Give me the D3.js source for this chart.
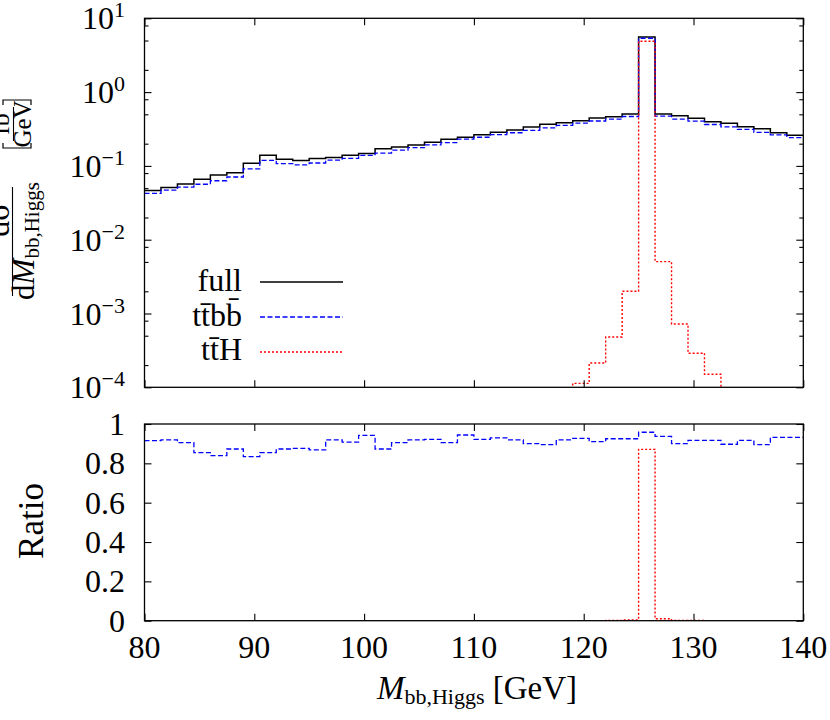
<!DOCTYPE html>
<html>
<head>
<meta charset="utf-8">
<script src="https://cdn.jsdelivr.net/npm/d3@7/dist/d3.min.js"></script>
<style>
  body { margin: 0; background: #ffffff; }
  text { font-family: 'Liberation Serif', 'Times New Roman', serif; fill: #000000; }
</style>
</head>
<body>
<svg id="canvas"></svg>
<script>

// Bin edges of the histogram (GeV).
var binEdges = [80, 81.5, 83, 84.5, 86, 87.5, 89, 90.5, 92, 93.5, 95, 96.5, 98, 99.5,
                101, 102.5, 104, 105.5, 107, 108.5, 110, 111.5, 113, 114.5, 116, 117.5,
                119, 120.5, 122, 123.5, 125, 126.5, 128, 129.5, 131, 132.5, 134, 135.5,
                137, 138.5, 140];

// dsigma/dM for the full calculation (fb/GeV).
var full = [0.0464, 0.051, 0.057, 0.066, 0.075, 0.081, 0.109, 0.139, 0.123, 0.118,
            0.126, 0.130, 0.139, 0.147, 0.171, 0.181, 0.192, 0.209, 0.229, 0.244,
            0.265, 0.285, 0.306, 0.336, 0.366, 0.385, 0.41, 0.446, 0.464, 0.505,
            5.6, 0.505, 0.479, 0.441, 0.397, 0.377, 0.34, 0.319, 0.282, 0.26];

// dsigma/dM for ttbb (fb/GeV).
var ttbb = [0.0425, 0.0469, 0.0516, 0.0564, 0.0629, 0.0707, 0.0909, 0.1187, 0.1074, 0.1034,
            0.1094, 0.1195, 0.1262, 0.1385, 0.1493, 0.1638, 0.1764, 0.1927, 0.2072, 0.2303,
            0.2443, 0.2648, 0.2812, 0.3024, 0.3276, 0.3538, 0.3801, 0.4059, 0.4292, 0.4671,
            5.365, 0.4732, 0.4311, 0.4044, 0.364, 0.3382, 0.3118, 0.2855, 0.2628, 0.2423];

// dsigma/dM for ttH (fb/GeV), null where below the plotted range.
var ttH = [null, null, null, null, null, null, null, null, null, null,
           null, null, null, null, null, null, null, null, null, null,
           null, null, null, null, null, null, 1.13e-4, 2.13e-4, 4.8e-4, 2.0e-3,
           4.88, 5.05e-3, 7.2e-4, 2.9e-4, 1.5e-4, null, null, null, null, null];

// Ratio ttbb / full.
var ratioTtbb = [0.915, 0.919, 0.905, 0.854, 0.839, 0.873, 0.834, 0.854, 0.873, 0.876,
                 0.868, 0.919, 0.908, 0.942, 0.873, 0.905, 0.919, 0.922, 0.905, 0.944,
                 0.922, 0.929, 0.919, 0.900, 0.895, 0.919, 0.927, 0.910, 0.925, 0.925,
                 0.958, 0.937, 0.900, 0.917, 0.917, 0.897, 0.917, 0.895, 0.932, 0.932];

// Ratio ttH / full.
var ratioTtH = [0, 0, 0, 0, 0, 0, 0, 0, 0, 0,
                0, 0, 0, 0, 0, 0, 0, 0, 0, 0,
                0, 0, 0, 0, 0, 0, 0.0003, 0.0005, 0.001, 0.004,
                0.871, 0.010, 0.0015, 0.0007, 0.0004, 0, 0, 0, 0, 0];

// Tick values.
var xTicks = [80, 90, 100, 110, 120, 130, 140];
var logTicks = [-4, -3, -2, -1, 0, 1];
var logMinorMantissa = [2, 5, 8];
var ratioTicks = [0, 0.2, 0.4, 0.6, 0.8, 1];
var ratioTickLabels = ['0', '0.2', '0.4', '0.6', '0.8', '1'];

// Legend entries.
var legendLabels = ['full', 't\u0074\u0304b\u0062\u0304', 't\u0074\u0304H'];

// Canvas and graph settings.
var canvas = {
  dim: { w: 830, h: 720 },
  plot: { left: 144.5, right: 803.3 },
  top: { y0: 18.3, y1: 387.3 },
  bottom: { y0: 424, y1: 620.7 },
  font: 32,
  colours: {
    full: '#000000',
    ttbb: '#0000ff',
    ttH: '#ff0000'
  }
};

var svg = d3.select('#canvas')
            .attr('width', canvas.dim.w)
            .attr('height', canvas.dim.h);

// Scales.
var x = d3.scaleLinear().domain([80, 140]).range([canvas.plot.left, canvas.plot.right]);
var yLog = d3.scaleLog().domain([1e-4, 10]).range([canvas.top.y1, canvas.top.y0]);
var yRatio = d3.scaleLinear().domain([0, 1]).range([canvas.bottom.y1, canvas.bottom.y0]);

// Clip paths for both panels.
var defs = svg.append('defs');
defs.append('clipPath').attr('id', 'clipTop')
    .append('rect')
    .attr('x', canvas.plot.left).attr('y', canvas.top.y0)
    .attr('width', canvas.plot.right - canvas.plot.left)
    .attr('height', canvas.top.y1 - canvas.top.y0);
defs.append('clipPath').attr('id', 'clipBottom')
    .append('rect')
    .attr('x', canvas.plot.left).attr('y', canvas.bottom.y0 - 2)
    .attr('width', canvas.plot.right - canvas.plot.left)
    .attr('height', canvas.bottom.y1 - canvas.bottom.y0 + 2);

// Step line generator over the bin edges.
var stepLine = function(values, yScale, below) {
  var pts = values.map(function(v, i) { return [binEdges[i], v]; });
  pts.push([binEdges[binEdges.length - 1], values[values.length - 1]]);
  return d3.line()
           .curve(d3.curveStepAfter)
           .x(function(d) { return x(d[0]); })
           .y(function(d) { return d[1] == null ? below : yScale(d[1]); })(pts);
};

// Draw one histogram.
var drawHist = function(g, values, yScale, below, colour, dash, width) {
  g.append('path')
   .attr('d', stepLine(values, yScale, below))
   .attr('fill', 'none')
   .attr('stroke', colour)
   .attr('stroke-width', width)
   .attr('stroke-dasharray', dash);
};

// Draw the ticks and the frame of a panel.
var drawTicks = function(y0, y1, yScale, yMajor, yMinor) {
  var g = svg.append('g').attr('class', 'ticks');
  var list = [
    { axis: d3.axisBottom(x).tickValues(xTicks).tickSize(7), t: [0, y0] },
    { axis: d3.axisTop(x).tickValues(xTicks).tickSize(7), t: [0, y1] },
    { axis: d3.axisRight(yScale).tickValues(yMajor).tickSize(7), t: [canvas.plot.left, 0] },
    { axis: d3.axisLeft(yScale).tickValues(yMajor).tickSize(7), t: [canvas.plot.right, 0] }
  ];
  if (yMinor) {
    list.push({ axis: d3.axisRight(yScale).tickValues(yMinor).tickSize(4), t: [canvas.plot.left, 0] });
    list.push({ axis: d3.axisLeft(yScale).tickValues(yMinor).tickSize(4), t: [canvas.plot.right, 0] });
  }
  list.forEach(function(item) {
    var a = g.append('g')
             .attr('transform', 'translate(' + item.t[0] + ',' + item.t[1] + ')')
             .call(item.axis.tickFormat(''));
    a.select('.domain').remove();
    a.selectAll('line').attr('stroke', '#000').attr('stroke-width', 1.1);
  });
  svg.append('rect')
     .attr('x', canvas.plot.left).attr('y', y0)
     .attr('width', canvas.plot.right - canvas.plot.left)
     .attr('height', y1 - y0)
     .attr('fill', 'none')
     .attr('stroke', '#000')
     .attr('stroke-width', 1.3);
};

////////////////////////////////////////////////////////////////////////////////
// Top panel
////////////////////////////////////////////////////////////////////////////////
var topG = svg.append('g').attr('clip-path', 'url(#clipTop)');
var below = canvas.top.y1 + 30;
drawHist(topG, full, yLog, below, canvas.colours.full, null, 1.5);
drawHist(topG, ttbb, yLog, below, canvas.colours.ttbb, '5,2.5', 1.3);
drawHist(topG, ttH, yLog, below, canvas.colours.ttH, '2,2', 1.4);

var minorValues = [];
logTicks.forEach(function(e) {
  logMinorMantissa.forEach(function(m) {
    var v = m * Math.pow(10, e);
    if (v < 10) { minorValues.push(v); }
  });
});
drawTicks(canvas.top.y0, canvas.top.y1, yLog,
          logTicks.map(function(e) { return Math.pow(10, e); }), minorValues);

// Log tick labels.
logTicks.forEach(function(e) {
  var t = svg.append('text')
             .attr('x', 125)
             .attr('y', yLog(Math.pow(10, e)) + 11)
             .attr('text-anchor', 'end')
             .attr('font-size', canvas.font);
  t.append('tspan').text('10');
  t.append('tspan')
   .attr('dy', -12)
   .attr('font-size', 22)
   .text(e < 0 ? '\u2212' + (-e) : String(e));
});

// Legend.
legendLabels.forEach(function(label, i) {
  var yBase = 291 + i * 34.5;
  svg.append('text')
     .attr('x', 242).attr('y', yBase)
     .attr('text-anchor', 'end')
     .attr('font-size', canvas.font)
     .text(label);
});
var legendStyles = [
  { colour: canvas.colours.full, dash: null, width: 1.5 },
  { colour: canvas.colours.ttbb, dash: '5,2.5', width: 1.3 },
  { colour: canvas.colours.ttH, dash: '2,2', width: 1.4 }
];
legendStyles.forEach(function(s, i) {
  var yLine = 282 + i * 35;
  svg.append('line')
     .attr('x1', 260).attr('x2', 343)
     .attr('y1', yLine).attr('y2', yLine)
     .attr('stroke', s.colour)
     .attr('stroke-width', s.width)
     .attr('stroke-dasharray', s.dash);
});

// Y axis label of the top panel (rotated fraction).
var yl = svg.append('g').attr('transform', 'rotate(-90)');
yl.append('text')
  .attr('x', -220).attr('y', 9)
  .attr('text-anchor', 'middle')
  .attr('font-size', canvas.font)
  .text('d\u03C3');
yl.append('line')
  .attr('x1', -296).attr('x2', -187)
  .attr('y1', 12.5).attr('y2', 12.5)
  .attr('stroke', '#000').attr('stroke-width', 1.1);
var den = yl.append('text')
            .attr('x', -241).attr('y', 34)
            .attr('text-anchor', 'middle')
            .attr('font-size', 31);
den.append('tspan').text('d');
den.append('tspan').attr('font-style', 'italic').text('M');
den.append('tspan').attr('font-size', 21).attr('dy', 5).text('bb,Higgs');
yl.append('text')
  .attr('x', -124).attr('y', 9)
  .attr('text-anchor', 'middle')
  .attr('font-size', 26)
  .text('fb');
yl.append('line')
  .attr('x1', -141).attr('x2', -107)
  .attr('y1', 13.5).attr('y2', 13.5)
  .attr('stroke', '#000').attr('stroke-width', 1.1);
yl.append('text')
  .attr('x', -124).attr('y', 31)
  .attr('text-anchor', 'middle')
  .attr('font-size', 25)
  .text('GeV');

// Square brackets round fb/GeV.
svg.append('path')
   .attr('d', 'M3,143 L3,148 L31,148 L31,143 M3,105 L3,100 L31,100 L31,105')
   .attr('fill', 'none')
   .attr('stroke', '#000')
   .attr('stroke-width', 1.2);

////////////////////////////////////////////////////////////////////////////////
// Ratio panel
////////////////////////////////////////////////////////////////////////////////
var botG = svg.append('g').attr('clip-path', 'url(#clipBottom)');
drawHist(botG, ratioTtH, yRatio, canvas.bottom.y1 + 30, canvas.colours.ttH, '2,2', 1.4);
drawHist(botG, ratioTtbb, yRatio, canvas.bottom.y1 + 30, canvas.colours.ttbb, '5,2.5', 1.3);
drawTicks(canvas.bottom.y0, canvas.bottom.y1, yRatio, ratioTicks, null);

// Ratio tick labels.
ratioTicks.forEach(function(v, i) {
  svg.append('text')
     .attr('x', 125)
     .attr('y', yRatio(v) + 11)
     .attr('text-anchor', 'end')
     .attr('font-size', canvas.font)
     .text(ratioTickLabels[i]);
});

// X tick labels.
xTicks.forEach(function(v) {
  svg.append('text')
     .attr('x', x(v))
     .attr('y', 658)
     .attr('text-anchor', 'middle')
     .attr('font-size', canvas.font)
     .text(v);
});

// Ratio axis label.
svg.append('text')
   .attr('transform', 'translate(43,521) rotate(-90)')
   .attr('text-anchor', 'middle')
   .attr('font-size', 35)
   .text('Ratio');

// X axis title.
var xt = svg.append('text')
            .attr('x', 477).attr('y', 699)
            .attr('text-anchor', 'middle')
            .attr('font-size', 33);
xt.append('tspan').attr('font-style', 'italic').text('M');
xt.append('tspan').attr('font-size', 22).attr('dy', 5).text('bb,Higgs');
xt.append('tspan').attr('dy', -5).text(' [GeV]');

</script>
</body>
</html>
